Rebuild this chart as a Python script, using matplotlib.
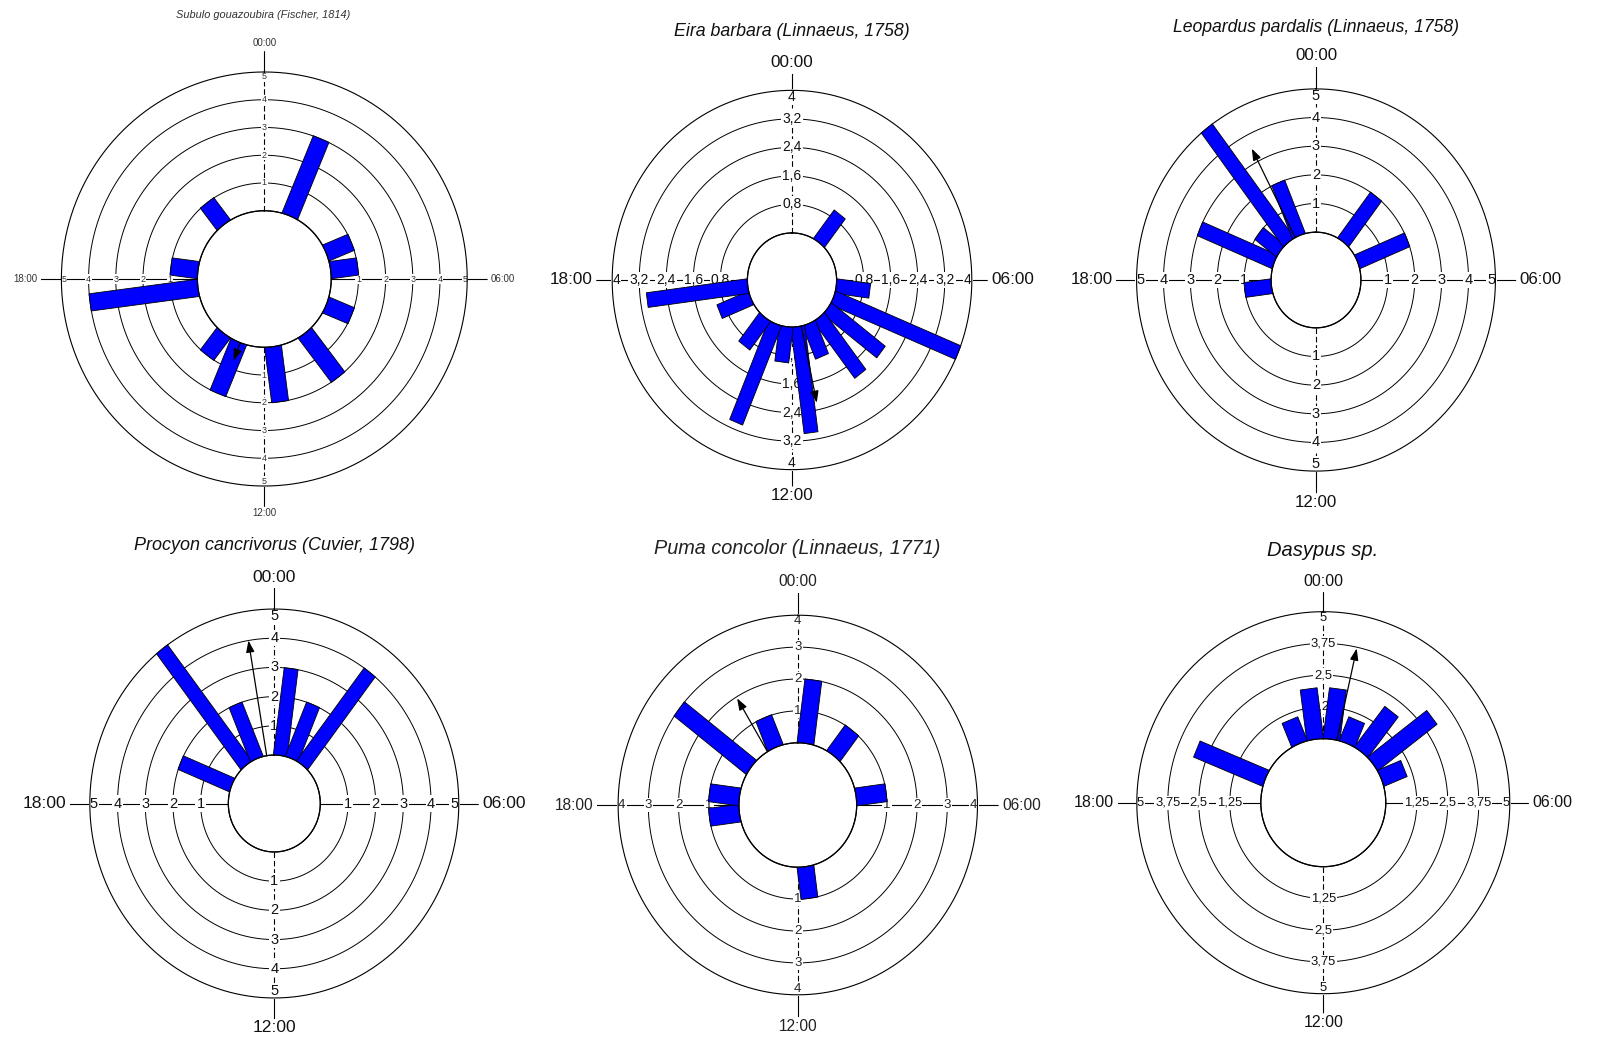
import numpy as np
import matplotlib
matplotlib.use("Agg")
import matplotlib.pyplot as plt
from matplotlib import font_manager

plt.rcParams['font.family'] = ['Liberation Sans', 'DejaVu Sans']

# ---------------- data ----------------
hours = list(range(24))

titles = [
    "Subulo gouazoubira (Fischer, 1814)",
    "Eira barbara (Linnaeus, 1758)",
    "Leopardus pardalis (Linnaeus, 1758)",
    "Procyon cancrivorus (Cuvier, 1798)",
    "Puma concolor (Linnaeus, 1771)",
    "Dasypus sp.",
]

subulo    = [0, 3, 0, 0, 1, 1, 0, 1, 0, 2, 0, 2, 0, 2, 1, 0, 0, 4, 1, 0, 0, 1, 0, 0]
eira      = [0, 0, 1, 0, 0, 0, 1, 4, 2, 2, 1, 3, 1, 3, 1, 0, 1, 3, 0, 0, 0, 0, 0, 0]
leopardus = [0, 0, 2, 0, 2, 0, 0, 0, 0, 0, 0, 0, 0, 0, 0, 0, 0, 1, 0, 3, 1, 5, 2, 0]
procyon   = [3, 2, 4, 0, 0, 0, 0, 0, 0, 0, 0, 0, 0, 0, 0, 0, 0, 0, 0, 2, 0, 5, 2, 0]
puma      = [2, 0, 1, 0, 0, 1, 0, 0, 0, 0, 0, 1, 0, 0, 0, 0, 0, 1, 1, 0, 3, 0, 1, 0]
dasypus   = [2, 1, 2, 3, 1, 0, 0, 0, 0, 0, 0, 0, 0, 0, 0, 0, 0, 0, 0, 3, 0, 0, 1, 2]

ticks_subulo    = [1, 2, 3, 4, 5]
ticks_eira      = [0.8, 1.6, 2.4, 3.2, 4]
ticks_leopardus = [1, 2, 3, 4, 5]
ticks_procyon   = [1, 2, 3, 4, 5]
ticks_puma      = [1, 2, 3, 4]
ticks_dasypus   = [1.25, 2.5, 3.75, 5]

# mean vector: direction (degrees clockwise from 00:00) and length (scale units)
mean_angle  = [201, 168, 332.5, 350.5, 329, 12.5]
mean_length = [0.7, 2.2, 3.5, 4.0, 1.95, 3.7]

hour_labels = ["00:00", "06:00", "12:00", "18:00"]

# ---------------- fonts ----------------
try:
    font_manager.findfont(font_manager.FontProperties(family='Liberation Sans Narrow'),
                          fallback_to_default=False)
    NARROW = ['Liberation Sans Narrow', 'DejaVu Sans']
    NSCALE = 1.0 / 0.82
except Exception:
    NARROW = ['Liberation Sans', 'DejaVu Sans']
    NSCALE = 1.0
REGULAR = ['Liberation Sans', 'DejaVu Sans']

# ---------------- layout / style (pixels) ----------------
W, H = 1598, 1046
# cx, cy, ux, uy, hole, ext, bar_w_px, fs_title, fs_hour, fs_tick, title_x, title_y, color, narrow
layout = [
    (264.3, 279.0, 27.2, 27.75, 2.46, 5.75, 17, 7.9, 7.0, 6.4, 263, 15, '#333333', False),
    (792.0, 280.0, 33.8, 35.65, 1.32, 4.47, 14, 12.8, 12.3, 10.0, 792, 32, '#111111', True),
    (1316.0, 280.0, 26.9, 28.65, 1.67, 5.77, 14, 12.7, 12.2, 10.5, 1316, 27, '#111111', True),
    (274.3, 803.5, 27.7, 29.2, 1.66, 5.72, 14, 13.0, 12.6, 10.5, 274, 545, '#111111', True),
    (797.8, 805.0, 30.2, 31.9, 1.95, 4.70, 17, 14.3, 11.2, 9.5, 797, 549, '#222222', True),
    (1323.3, 802.7, 24.8, 25.4, 2.52, 5.77, 17, 14.5, 11.5, 9.4, 1323, 550, '#111111', False),
]

series = [subulo, eira, leopardus, procyon, puma, dasypus]
ticks_all = [ticks_subulo, ticks_eira, ticks_leopardus, ticks_procyon, ticks_puma, ticks_dasypus]

fig = plt.figure(figsize=(W / 100, H / 100), dpi=100)
fig.patch.set_facecolor('white')


def fmt(v):
    return f"{v:g}".replace('.', ',')


for i in range(6):
    cx, cy, ux, uy, hole, ext, bw, fs_t, fs_h, fs_k, tx, ty, tcol, narrow = layout[i]
    fam = NARROW if narrow else REGULAR
    sc = NSCALE if narrow else 1.0
    fs_t, fs_h, fs_k = fs_t * sc, fs_h * sc, fs_k * sc
    counts = series[i]
    ticks = ticks_all[i]
    outer = ticks[-1]

    hw = (hole + ext) * ux
    hh = (hole + ext) * uy
    ax = fig.add_axes([(cx - hw) / W, 1 - (cy + hh) / H, 2 * hw / W, 2 * hh / H],
                      projection='polar')
    ax.set_aspect('auto')
    ax.set_theta_zero_location('N')
    ax.set_theta_direction(-1)
    ax.set_rorigin(-hole)
    ax.set_ylim(0, ext)
    ax.set_xticks([])
    ax.set_yticks([])
    ax.grid(False)
    for s in ax.spines.values():
        s.set_visible(False)

    th = np.linspace(0, 2 * np.pi, 721)
    # rings
    for v in ticks[:-1]:
        ax.plot(th, np.full_like(th, v), color='black', lw=0.7, zorder=1)
    ax.plot(th, np.full_like(th, outer), color='black', lw=0.8, zorder=4)
    ax.plot(th, np.zeros_like(th), color='black', lw=0.9, zorder=6, clip_on=False)

    # cross axes
    for ang in (np.pi / 2, 3 * np.pi / 2):
        ax.plot([ang, ang], [0, ext], color='black', lw=0.8, zorder=2)
    for ang in (0.0, np.pi):
        ax.plot([ang, ang], [0, outer], color='black', lw=0.8,
                ls=(0, (5, 2.5)), zorder=2)
        ax.plot([ang, ang], [outer, ext], color='black', lw=0.8, zorder=2)

    # scale labels along the four half-axes
    bbox = dict(boxstyle='square,pad=0.08', fc='white', ec='none')
    for v in ticks:
        last = (v == outer)
        lab = fmt(v)
        kw = dict(fontsize=fs_k, color=tcol, zorder=3, bbox=bbox, family=fam)
        ax.text(np.pi / 2, v, lab, ha='right' if last else 'center', va='center', **kw)
        ax.text(3 * np.pi / 2, v, lab, ha='left' if last else 'center', va='center', **kw)
        ax.text(0.0, v, lab, ha='center', va='top' if last else 'center', **kw)
        ax.text(np.pi, v, lab, ha='center', va='bottom' if last else 'center', **kw)

    # hour labels
    off = 2.5
    hk = dict(textcoords='offset points', fontsize=fs_h, color=tcol,
              annotation_clip=False, family=fam)
    ax.annotate(hour_labels[0], xy=(0.0, ext), xytext=(0, off),
                ha='center', va='bottom', **hk)
    ax.annotate(hour_labels[1], xy=(np.pi / 2, ext), xytext=(off, 0),
                ha='left', va='center', **hk)
    ax.annotate(hour_labels[2], xy=(np.pi, ext), xytext=(0, -1),
                ha='center', va='top', **hk)
    ax.annotate(hour_labels[3], xy=(3 * np.pi / 2, ext), xytext=(-off, 0),
                ha='right', va='center', **hk)

    # bars: rectangles of constant width starting at the inner circle
    half = bw / ux / 2.0
    for h, c in zip(hours, counts):
        if c <= 0:
            continue
        tc = np.deg2rad((h + 0.5) * 15.0)
        s0 = hole * 0.6
        s1 = hole + c
        along = np.array([s0, s1, s1, s0])
        perp = np.array([-half, -half, half, half])
        tt = tc + np.arctan2(perp, along)
        rr = np.hypot(along, perp) - hole
        ax.fill(tt, rr, facecolor='#0000FF', edgecolor='black', lw=0.6, zorder=5)

    # mean vector arrow
    ma = np.deg2rad(mean_angle[i])
    ax.annotate('', xy=(ma, mean_length[i]), xytext=(ma, 0),
                arrowprops=dict(arrowstyle='-|>,head_length=0.7,head_width=0.25',
                                color='black', lw=0.9, shrinkA=0, shrinkB=0,
                                mutation_scale=10),
                annotation_clip=False, zorder=7)

    fig.text(tx / W, 1 - ty / H, titles[i], ha='center', va='center',
             fontsize=fs_t, style='italic', color=tcol, family=fam)

fig.savefig('out.png', dpi=100, facecolor='white')
